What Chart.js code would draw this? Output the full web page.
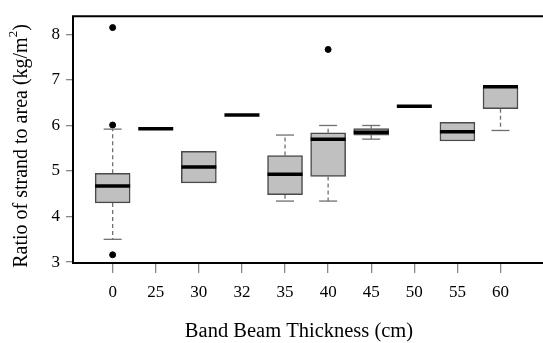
<!DOCTYPE html>
<html>
<head>
<meta charset="utf-8">
<script src="https://cdn.jsdelivr.net/npm/chart.js@4.4.1/dist/chart.umd.min.js"></script>
<style>
  html, body { margin: 0; padding: 0; background: #fff; overflow: hidden; }
  canvas { display: block; }
</style>
</head>
<body>
<canvas id="box" width="543" height="343"></canvas>
<script>
const categories = ["0", "25", "30", "32", "35", "40", "45", "50", "55", "60"];
const q1 = [4.30, 5.93, 4.74, 6.23, 4.48, 4.88, 5.79, 6.42, 5.66, 6.37];
const medians = [4.67, 5.93, 5.09, 6.23, 4.93, 5.70, 5.85, 6.42, 5.86, 6.85];
const q3 = [4.95, 5.93, 5.43, 6.23, 5.34, 5.84, 5.93, 6.42, 6.07, 6.85];
const whiskerLow = [3.50, null, null, null, 4.34, 4.34, 5.70, null, null, 5.89];
const whiskerHigh = [5.92, null, null, null, 5.79, 6.00, 6.00, null, null, null];
const outlierGroup = [0, 0, 0, 5];
const outlierValue = [8.15, 6.01, 3.16, 7.67];
const yTicks = [3, 4, 5, 6, 7, 8];

const serif = "'Liberation Serif', 'Times New Roman', serif";

// medians, whiskers, frame and axis titles, all placed through the scales
const boxExtras = {
  id: "boxExtras",
  afterDatasetsDraw(chart) {
    const ctx = chart.ctx;
    const x = chart.scales.x, y = chart.scales.y;
    const area = chart.chartArea;
    ctx.save();
    categories.forEach((c, i) => {
      const px = x.getPixelForValue(i);
      ctx.strokeStyle = "#707070";
      ctx.lineWidth = 1.3;
      [[q3[i], whiskerHigh[i]], [q1[i], whiskerLow[i]]].forEach(([from, to]) => {
        if (to === null) return;
        ctx.setLineDash([4, 3]);
        ctx.beginPath();
        ctx.moveTo(px, y.getPixelForValue(from));
        ctx.lineTo(px, y.getPixelForValue(to));
        ctx.stroke();
        ctx.setLineDash([]);
        ctx.beginPath();
        ctx.moveTo(px - 9, y.getPixelForValue(to));
        ctx.lineTo(px + 9, y.getPixelForValue(to));
        ctx.stroke();
      });
      ctx.strokeStyle = "#000";
      ctx.lineWidth = 3.5;
      ctx.beginPath();
      ctx.moveTo(px - 17.5, y.getPixelForValue(medians[i]));
      ctx.lineTo(px + 17.5, y.getPixelForValue(medians[i]));
      ctx.stroke();
    });

    // frame (right side is cut off in the picture)
    ctx.strokeStyle = "#000";
    ctx.lineWidth = 2;
    ctx.beginPath();
    ctx.moveTo(chart.width, area.top);
    ctx.lineTo(area.left, area.top);
    ctx.lineTo(area.left, area.bottom);
    ctx.lineTo(chart.width, area.bottom);
    ctx.stroke();

    // axis titles
    ctx.fillStyle = "#000";
    ctx.font = "20.5px " + serif;
    ctx.textAlign = "center";
    ctx.textBaseline = "alphabetic";
    ctx.fillText("Band Beam Thickness (cm)", area.left + 226, 337);

    ctx.translate(27, 146);
    ctx.rotate(-Math.PI / 2);
    const main = "Ratio of strand to area (kg/m";
    ctx.font = "20px " + serif;
    const w1 = ctx.measureText(main).width;
    ctx.font = "13px " + serif;
    const w2 = ctx.measureText("2").width;
    ctx.font = "20px " + serif;
    const w3 = ctx.measureText(")").width;
    let sx = -(w1 + w2 + w3) / 2;
    ctx.textAlign = "left";
    ctx.fillText(main, sx, 0);
    sx += w1;
    ctx.font = "13px " + serif;
    ctx.fillText("2", sx, -10);
    sx += w2;
    ctx.font = "20px " + serif;
    ctx.fillText(")", sx, 0);
    ctx.restore();
  },
};

new Chart(document.querySelector("#box"), {
  data: {
    datasets: [
      {
        type: "bar",
        label: "box",
        data: categories.map((c, i) => ({ x: i, y: q1[i] === q3[i] ? null : [q1[i], q3[i]] })),
        backgroundColor: "#c0c0c0",
        borderColor: "#4a4a4a",
        borderWidth: 1.5,
        borderSkipped: false,
        barThickness: 35,
      },
      {
        type: "scatter",
        label: "outliers",
        data: outlierGroup.map((g, i) => ({ x: g, y: outlierValue[i] })),
        backgroundColor: "#000",
        borderColor: "#000",
        pointRadius: 3,
      },
    ],
  },
  options: {
    responsive: false,
    animation: false,
    layout: { padding: { top: 5, right: 0, left: 0, bottom: 0 } },
    plugins: {
      legend: { display: false },
      tooltip: { enabled: false },
    },
    scales: {
      x: {
        type: "linear",
        min: -0.92,
        max: 9.87,
        offset: false,
        afterBuildTicks: (s) => { s.ticks = categories.map((c, i) => ({ value: i })); },
        afterFit: (s) => { s.height = 80; s.paddingLeft = 0; s.paddingRight = 0; },
        ticks: {
          callback: (v) => categories[v],
          color: "#000",
          padding: 9,
          maxRotation: 0,
          autoSkip: false,
          font: { family: serif, size: 17 },
        },
        grid: { offset: false, drawOnChartArea: false, tickLength: 10, color: "#888", lineWidth: 1.3 },
        border: { display: false },
      },
      y: {
        min: 2.98,
        max: 8.4,
        afterBuildTicks: (s) => { s.ticks = yTicks.map((v) => ({ value: v })); },
        afterFit: (s) => { s.width = 73; },
        ticks: {
          color: "#000",
          padding: 6,
          font: { family: serif, size: 17 },
        },
        grid: { drawOnChartArea: false, tickLength: 7, color: "#888", lineWidth: 1.3 },
        border: { display: false },
      },
    },
  },
  plugins: [boxExtras],
});
</script>
</body>
</html>
